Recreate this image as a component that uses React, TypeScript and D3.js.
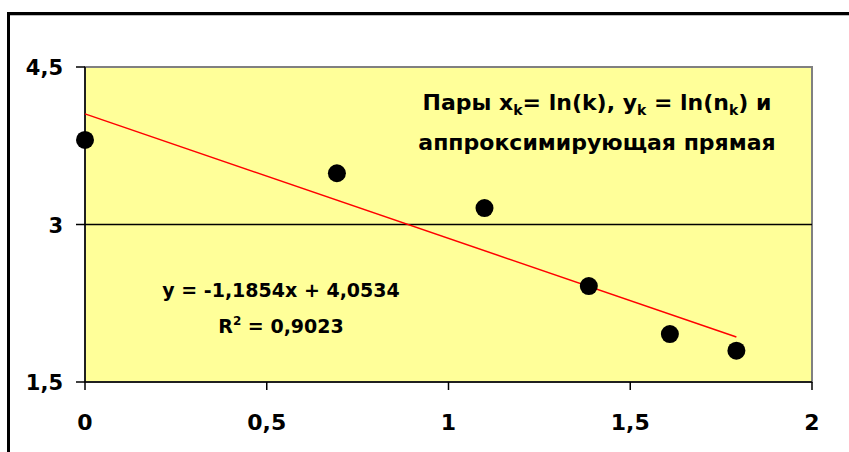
import React from "react";
import * as d3 from "d3";

const xValues = [0, 0.693, 1.099, 1.386, 1.609, 1.792];
const yValues = [3.805, 3.488, 3.157, 2.414, 1.957, 1.798];
const xTicks = [0, 0.5, 1, 1.5, 2];
const yTicks = [1.5, 3, 4.5];
const trendSlope = -1.1854;
const trendIntercept = 4.0534;
const equationLabel = "y = -1,1854x + 4,0534";
const r2Label = "0,9023";

const W = 849;
const H = 452;
const plot = { left: 85, right: 812, top: 67, bottom: 382 };
const FONT = "'DejaVu Sans', sans-serif";

const fmt = (v: number) => String(v).replace(".", ",");

export default function App() {
  const x = d3.scaleLinear().domain([0, 2]).range([plot.left, plot.right]);
  const y = d3.scaleLinear().domain([1.5, 4.5]).range([plot.bottom, plot.top]);
  const xMin = d3.min(xValues) as number;
  const xMax = d3.max(xValues) as number;
  const trend = d3.line<number>()
    .x((d) => x(d))
    .y((d) => y(trendSlope * d + trendIntercept));
  const points = xValues.map((xv, i) => ({ x: xv, y: yValues[i] }));

  return (
    <svg
      width={W}
      height={H}
      style={{ position: "absolute", left: 0, top: 0, background: "#fff" }}
      fontFamily={FONT}
      fontWeight="bold"
    >
      <rect x={0} y={0} width={W} height={H} fill="#fff" />
      {/* outer chart border */}
      <rect x={8.5} y={13.5} width={W + 20} height={H + 20} fill="none" stroke="#000" strokeWidth={3} />
      <line x1={10} x2={W} y1={15.5} y2={15.5} stroke="#bbb" strokeWidth={1} />

      {/* plot area */}
      <rect
        x={plot.left}
        y={plot.top}
        width={plot.right - plot.left}
        height={plot.bottom - plot.top}
        fill="#FFFF99"
        stroke="#808080"
        strokeWidth={2}
      />

      {/* gridlines */}
      {yTicks.slice(1, -1).map((t) => (
        <line key={t} x1={plot.left} x2={plot.right} y1={y(t)} y2={y(t)} stroke="#000" strokeWidth={1.5} />
      ))}

      {/* axes */}
      <line x1={plot.left} x2={plot.left} y1={plot.top} y2={plot.bottom} stroke="#000" strokeWidth={1.5} />
      <line x1={plot.left} x2={plot.right} y1={plot.bottom} y2={plot.bottom} stroke="#000" strokeWidth={1.5} />

      {yTicks.map((t) => (
        <g key={t}>
          <line x1={plot.left - 9} x2={plot.left} y1={y(t)} y2={y(t)} stroke="#000" strokeWidth={1.5} />
          <text x={63} y={y(t) + 8} textAnchor="end" fontSize={21} fill="#000">
            {fmt(t)}
          </text>
        </g>
      ))}
      {xTicks.map((t) => (
        <g key={t}>
          <line x1={x(t)} x2={x(t)} y1={plot.bottom} y2={plot.bottom + 8} stroke="#000" strokeWidth={1.5} />
          <text x={x(t)} y={430} textAnchor="middle" fontSize={22} fill="#000">
            {fmt(t)}
          </text>
        </g>
      ))}

      {/* trendline */}
      <path d={trend([xMin, xMax]) || ""} fill="none" stroke="#FF0000" strokeWidth={1.5} />

      {/* points */}
      {points.map((p, i) => (
        <circle key={i} cx={x(p.x)} cy={y(p.y)} r={9} fill="#000" />
      ))}

      {/* title */}
      <text x={597} y={110} textAnchor="middle" fontSize={22} fill="#000">
        Пары x<tspan fontSize={14} dy={5}>k</tspan>
        <tspan dy={-5}>= ln(k), y</tspan>
        <tspan fontSize={14} dy={5}>k</tspan>
        <tspan dy={-5}> = ln(n</tspan>
        <tspan fontSize={14} dy={5}>k</tspan>
        <tspan dy={-5}>) и</tspan>
      </text>
      <text x={597} y={150} textAnchor="middle" fontSize={22} fill="#000">
        аппроксимирующая прямая
      </text>

      {/* equation */}
      <text x={281} y={297} textAnchor="middle" fontSize={19} fill="#000">
        {equationLabel}
      </text>
      <text x={281} y={333} textAnchor="middle" fontSize={19} fill="#000">
        R<tspan fontSize={12} dy={-8}>2</tspan>
        <tspan dy={8}> = {r2Label}</tspan>
      </text>
    </svg>
  );
}
